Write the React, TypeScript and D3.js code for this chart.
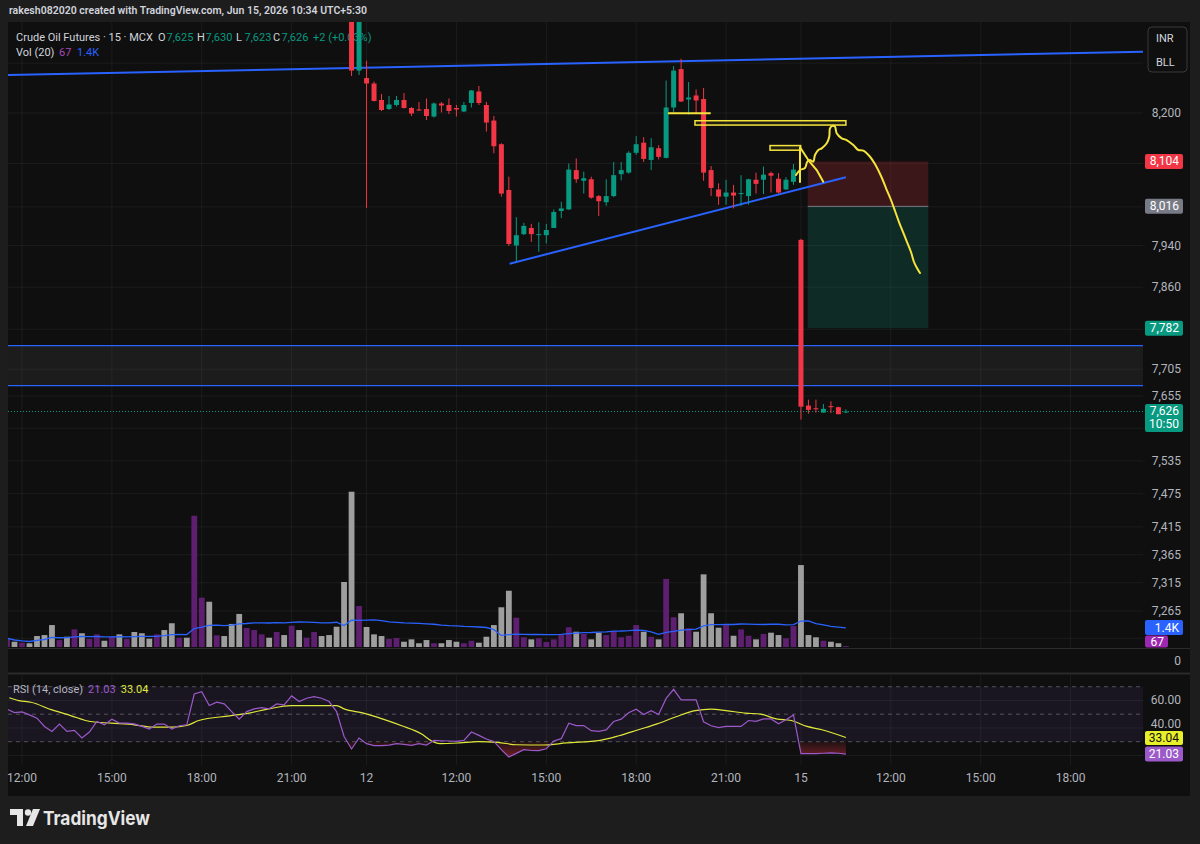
import React from 'react';
import * as d3 from 'd3';

const W = 1200;
const H = 844;

// 15-minute bars, session gaps removed. Bar 0 = Jun 11 12:00.
const firstBar = -2;
const volumes = [
  630, 380, 310, 270, 790, 860, 1580, 500, 740, 1270, 990, 580,
  910, 450, 740, 910, 580, 1080, 990, 600, 910, 1220,
  1710, 670, 670, 9450, 3550, 3260, 840, 790, 1660, 2380,
  1370, 1220, 910, 670, 1080, 860, 1530, 1220, 670, 1080,
  790, 860, 1460, 4680, 11180, 2950, 1440, 910, 790, 580,
  650, 380, 550, 270, 500, 270, 270, 500, 380, 270,
  450, 310, 740, 1580, 2860, 4050, 2110, 700, 550, 630,
  360, 550, 860, 1420, 1100, 940, 550, 1030, 860, 1150,
  700, 810, 1580, 1100, 740, 550, 4900, 2140, 2430, 1350,
  1100, 5230, 2430, 1390, 1580, 810, 1270, 810, 550, 940,
  1030, 860, 630, 1510, 5900, 860, 700, 450, 380, 270, 67,
];
// direction (1 = up) for bars -2..43 whose candles sit above the visible range
const volUpEarly = [
  1, 0, 1, 0, 0, 0, 0, 1, 0, 1, 0, 1, 1, 0, 1, 0, 1, 0, 0, 0, 1, 0, 0,
  1, 0, 1, 1, 0, 1, 0, 0, 0, 1, 1, 1, 0, 1, 0, 1, 0, 1, 1, 0, 0, 0, 0,
];
const candleStart = 44;
const opens = [
  8420, 8285, 8270, 8259, 8226, 8208, 8216, 8226, 8210, 8207, 8208, 8193, 8219, 8216, 8210, 8203,
  8220, 8243, 8216, 8185, 8138, 8048, 7940, 7962, 7974, 7961, 7960, 7974, 8007, 8010, 8087, 8066,
  8069, 8036, 8024, 8036, 8079, 8082, 8121, 8141, 8107, 8130, 8111, 8211, 8288, 8227, 8235, 8228,
  8087, 8049, 8035, 8043, 8040, 8036, 8068, 8068, 8081, 8070, 8049, 8064, 7951, 7637, 7632, 7624,
  7636, 7634, 7625,
];
const highs = [
  8440, 8420, 8305, 8263, 8238, 8234, 8234, 8240, 8212, 8222, 8229, 8221, 8222, 8229, 8216, 8222,
  8246, 8254, 8222, 8194, 8140, 8074, 7995, 7984, 7982, 7985, 7982, 8010, 8025, 8100, 8110, 8084,
  8074, 8038, 8069, 8103, 8103, 8124, 8154, 8152, 8150, 8136, 8265, 8294, 8309, 8262, 8247, 8250,
  8095, 8061, 8068, 8058, 8077, 8070, 8082, 8094, 8084, 8081, 8073, 8099, 7953, 7648, 7648, 7640,
  7645, 7635, 7630,
];
const lows = [
  8274, 8276, 8013, 8223, 8204, 8206, 8213, 8209, 8194, 8204, 8186, 8191, 8201, 8198, 8193, 8202,
  8211, 8216, 8163, 8120, 8035, 7939, 7910, 7960, 7947, 7928, 7944, 7974, 7993, 8009, 8062, 8041,
  8031, 7997, 8017, 8034, 8067, 8080, 8117, 8103, 8087, 8108, 8110, 8201, 8222, 8197, 8200, 8066,
  8036, 8019, 8019, 8012, 8017, 8019, 8041, 8040, 8043, 8041, 8048, 8058, 7611, 7622, 7624, 7624,
  7623, 7621, 7623,
];
const closes = [
  8285, 8400, 8259, 8224, 8206, 8217, 8226, 8210, 8199, 8205, 8194, 8219, 8215, 8204, 8207, 8216,
  8245, 8220, 8181, 8134, 8041, 7943, 7960, 7978, 7962, 7962, 7970, 8005, 8012, 8088, 8069, 8071,
  8033, 8026, 8036, 8077, 8087, 8121, 8138, 8109, 8132, 8113, 8211, 8285, 8223, 8231, 8225, 8082,
  8052, 8035, 8043, 8037, 8042, 8069, 8060, 8078, 8076, 8043, 8068, 8088, 7635, 7629, 7631, 7631,
  7634, 7621, 7626,
];
const rsi = [
  53.7, 51.2, 51.7, 49.5, 47.1, 41.1, 37.5, 42.8, 37.5, 38.2, 32.7, 37.0,
  44.7, 42.3, 46.4, 43.5, 43.5, 43.0, 41.1, 39.2, 42.8, 42.8,
  39.2, 41.6, 42.3, 64.7, 66.4, 56.3, 58.7, 57.5, 51.9, 46.4,
  51.9, 53.9, 54.8, 53.9, 57.5, 56.8, 63.3, 59.2, 61.6, 62.8,
  61.6, 59.2, 51.9, 33.8, 24.7, 32.7, 28.6, 27.1, 27.1, 27.5,
  28.6, 28.0, 27.3, 28.6, 27.6, 30.9, 30.7, 30.5, 30.2, 30.9,
  37.0, 34.6, 32.0, 30.2, 24.2, 18.9, 21.5, 24.2, 23.6, 23.5,
  24.9, 30.5, 32.2, 43.5, 41.7, 41.7, 38.0, 37.5, 38.6, 44.7,
  46.4, 51.1, 53.6, 49.8, 52.6, 49.8, 61.5, 68.1, 60.4, 60.4,
  60.4, 44.5, 41.6, 40.3, 41.1, 41.1, 41.1, 45.4, 44.8, 46.6,
  46.6, 43.0, 45.9, 49.5, 21.3, 21.3, 21.3, 21.6, 21.8, 21.6, 21.03,
];
// RSI-based MA, read at bar positions
const rsiMaBars = [-1.7, -0.4, 1.2, 4, 6.5, 9.1, 11.9, 15, 17.5, 20, 22, 23.6, 27.7, 30.3, 32.8, 35.9, 37.9, 42, 43, 45.6, 48.2, 50.7, 53.3, 54.8, 55.8, 58.4, 60.9, 63.5, 66, 69.6, 72.7, 77.2, 79.7, 82.3, 84.8, 87.4, 89.9, 92, 94, 96.6, 98.6, 100.7, 102.7, 104.8, 106.8, 110];
const rsiMaVals = [62.0, 59.9, 58.7, 53.1, 49.0, 44.7, 43.5, 42.3, 40.6, 40.6, 41.8, 45.4, 48.8, 50.8, 53.7, 56.3, 56.3, 56.3, 53.9, 50.8, 46.4, 41.6, 35.8, 30.2, 28.6, 29.1, 30.0, 29.5, 27.8, 27.6, 29.1, 31.0, 34.3, 38.7, 43.0, 48.3, 52.6, 53.7, 52.6, 50.8, 50.0, 46.6, 45.4, 41.1, 38.7, 33.04];

const timeTickBars = [0, 12, 24, 36, 46, 58, 70, 82, 94, 104, 116, 128, 140];
const timeTickLabels = ['12:00', '15:00', '18:00', '21:00', '12', '12:00', '15:00', '18:00', '21:00', '15', '12:00', '15:00', '18:00'];
// grid levels; the ones covered by axis labels are drawn as lines only
const priceGrid = [8300, 8200, 8100, 8015, 7940, 7860, 7780, 7705, 7655, 7595, 7535, 7475, 7415, 7365, 7315, 7265, 7217];
const priceTickLabels = [8200, 7940, 7860, 7705, 7655, 7535, 7475, 7415, 7365, 7315, 7265];
const rsiTicks = [60, 40, 20];
const rsiTickLabels = [60, 40];
const rsiBands = [70, 50, 30];

// legend pieces
const legendTitle = 'Crude Oil Futures · 15 · MCX';
const ohlcKeys = ['O', 'H', 'L', 'C'];
const ohlcVals = ['7,625', '7,630', '7,623', '7,626'];
const ohlcX = [158, 197, 236, 273];
const changeText = '+2 (+0.03%)';
const volLegend = [
  { t: 'Vol (20)', x: 16, c: '#d1d4dc' },
  { t: '67', x: 59, c: '#ab47bc' },
  { t: '1.4K', x: 77, c: '#2962ff' },
];

// drawings (bar index, price)
const trendTop = [[-1.87, 8276], [149.67, 8323]];
const trendBottom = [[65.1, 7905], [110, 8073]];
const zoneHigh = 7749;
const zoneLow = 7674;
const posFrom = 104.9, posTo = 121;
const posEntry = 8016, posStop = 8104, posTarget = 7782;
const yellowBoxes = [[89.85, 110, 8184.6, 8176], [99.87, 103.96, 8135.3, 8126.2]];
const yellowLine = [86.25, 91.95, 8199.4];
const sketchA = [[103.87, 8063.6], [103.87, 8131.9], [104.98, 8106.8], [105.43, 8098.9], [106.1, 8087.1], [106.98, 8064.2]];
const sketchB = [[103.34, 8077.3], [103.87, 8087.1], [104.54, 8091.1], [104.85, 8103.5], [105.21, 8106.8], [105.65, 8103.5], [105.87, 8116.7], [106.32, 8126.6], [106.77, 8129.9], [107.44, 8139.8], [107.78, 8152.9], [107.88, 8169.6], [108.24, 8174.7], [108.54, 8172.7], [108.77, 8159.6], [109.44, 8149.7], [110.1, 8146.3], [110.99, 8136.4], [111.66, 8126.6], [112.32, 8125.2], [113.22, 8113.3], [113.88, 8098.9], [114.69, 8075.4], [115.35, 8051.8], [116.02, 8028.4], [116.56, 8006.9], [117.09, 7985.5], [117.62, 7966.2], [118.16, 7946.8], [118.69, 7927.5], [119.09, 7908.3], [119.49, 7896.7], [119.89, 7887.1]];

const UP = '#089981';
const DOWN = '#f23645';
const FONT = 'Roboto, "Noto Sans", sans-serif';

export default function App() {
  const L = 8, R = 1143, AX = 1190, TOP = 22, MAINB = 648, RT = 675, RB = 765, BOT = 796;
  const x = d3.scaleLinear().domain([0, 140]).range([22, 22 + 140 * 7.49]);
  const y = d3.scaleLog().domain([8200, 7265]).range([113, 611]);
  const yV = d3.scaleLinear().domain([0, 11520]).range([647, 487]);
  const yR = d3.scaleLinear().domain([70, 30]).range([686.7, 741.7]);
  const bw = 5;

  const candles = opens.map((o, k) => ({ i: candleStart + k, o, h: highs[k], l: lows[k], c: closes[k] }));
  const vols = volumes.map((v, k) => {
    const i = firstBar + k;
    const up = i < candleStart ? volUpEarly[k] === 1 : closes[i - candleStart] >= opens[i - candleStart];
    return { i, v, up };
  });
  const volMa = vols.map((d, k) => ({ i: d.i, v: d3.mean(vols.slice(Math.max(0, k - 19), k + 1), (e) => e.v) as number }));
  const rsiPts = rsi.map((r, k) => ({ i: firstBar + k, r }));
  const rsiMa = rsiMaBars.map((b, k) => ({ i: b, r: rsiMaVals[k] }));

  const volLine = d3.line<{ i: number; v: number }>().x((d) => x(d.i)).y((d) => yV(d.v));
  const rsiLine = d3.line<{ i: number; r: number }>().x((d) => x(d.i)).y((d) => yR(d.r));
  const rsiMaLine = d3.line<{ i: number; r: number }>().x((d) => x(d.i)).y((d) => yR(d.r)).curve(d3.curveMonotoneX);
  const rsiArea = d3.area<{ i: number; r: number }>().x((d) => x(d.i)).y0(yR(30)).y1((d) => yR(d.r));
  const sketch = d3.line<number[]>().x((d) => x(d[0])).y((d) => y(d[1])).curve(d3.curveCatmullRom);
  const straight = d3.line<number[]>().x((d) => x(d[0])).y((d) => y(d[1]));

  const extend = (pts: number[][]) => {
    const [a, b] = pts;
    const s = (Math.log(b[1]) - Math.log(a[1])) / (b[0] - a[0]);
    const i0 = x.invert(L), i1 = x.invert(R);
    return [x(i0), y(Math.exp(Math.log(a[1]) + s * (i0 - a[0]))), x(i1), y(Math.exp(Math.log(a[1]) + s * (i1 - a[0])))];
  };
  const tt = extend(trendTop);

  const axisLabel = (cy: number, text: string, bg: string, fg = '#ffffff', w = 38, h = 15) => (
    <g key={text + cy}>
      <rect x={1145} y={cy - h / 2} width={w} height={h} rx={2} fill={bg} />
      <text x={1145 + w - 4} y={cy + 4} textAnchor="end" fontSize={12} fill={fg} fontFamily={FONT}>{text}</text>
    </g>
  );

  const grid = 'rgba(255,255,255,0.055)';
  const tickColor = '#b2b5be';

  return (
    <div style={{ position: 'absolute', left: 0, top: 0, width: W, height: H }}>
      <svg width={W} height={H} style={{ display: 'block' }} fontFamily={FONT}>
        <defs>
          <clipPath id="mainClip"><rect x={L} y={TOP} width={R - L} height={MAINB - TOP} /></clipPath>
          <clipPath id="rsiClip"><rect x={L} y={RT} width={R - L} height={RB - RT} /></clipPath>
          <clipPath id="below30"><rect x={L} y={yR(30)} width={R - L} height={RB - yR(30)} /></clipPath>
          <linearGradient id="redFade" gradientUnits="userSpaceOnUse" x1={0} y1={yR(30)} x2={0} y2={yR(10)}>
            <stop offset="0" stopColor="#f23645" stopOpacity={0.08} />
            <stop offset="1" stopColor="#f23645" stopOpacity={0.7} />
          </linearGradient>
        </defs>
        <rect x={0} y={0} width={W} height={H} fill="#1d1d1d" />
        <text x={9} y={14} fontSize={11.5} fontWeight={600} fill="#d1d4dc" textLength={358} lengthAdjust="spacingAndGlyphs">rakesh082020 created with TradingView.com, Jun 15, 2026 10:34 UTC+5:30</text>
        <rect x={L} y={TOP} width={AX - L} height={BOT - TOP} fill="#0f0f0f" />

        {timeTickBars.map((b) => (
          <g key={'vg' + b}>
            <line x1={x(b)} x2={x(b)} y1={TOP} y2={MAINB} stroke={grid} />
            <line x1={x(b)} x2={x(b)} y1={RT} y2={RB} stroke={grid} />
          </g>
        ))}
        {priceGrid.map((p) => (
          <line key={'hg' + p} x1={L} x2={R} y1={y(p)} y2={y(p)} stroke={grid} />
        ))}

        <text x={16} y={41} fontSize={11} fill="#d1d4dc">{legendTitle}</text>
        {ohlcKeys.map((k, n) => (
          <g key={'ohlc' + k}>
            <text x={ohlcX[n]} y={41} fontSize={11} fill="#d1d4dc">{k}</text>
            <text x={ohlcX[n] + 8.5} y={41} fontSize={11} fill={UP}>{ohlcVals[n]}</text>
          </g>
        ))}
        <text x={313} y={41} fontSize={11} fill={UP}>{changeText}</text>
        {volLegend.map((it) => (
          <text key={'vl' + it.t} x={it.x} y={56} fontSize={11} fill={it.c}>{it.t}</text>
        ))}

        <g clipPath="url(#mainClip)">
          <rect x={L} y={y(zoneHigh)} width={R - L} height={y(zoneLow) - y(zoneHigh)} fill="rgba(120,123,134,0.12)" />
          <line x1={L} x2={R} y1={y(zoneHigh)} y2={y(zoneHigh)} stroke="#2962ff" strokeWidth={1.2} />
          <line x1={L} x2={R} y1={y(zoneLow)} y2={y(zoneLow)} stroke="#2962ff" strokeWidth={1.2} />

          <rect x={x(posFrom)} y={y(posStop)} width={x(posTo) - x(posFrom)} height={y(posEntry) - y(posStop)} fill="rgba(242,54,69,0.2)" />
          <rect x={x(posFrom)} y={y(posEntry)} width={x(posTo) - x(posFrom)} height={y(posTarget) - y(posEntry)} fill="rgba(8,153,129,0.2)" />
          <line x1={x(posFrom)} x2={x(posTo)} y1={y(posEntry)} y2={y(posEntry)} stroke="#787b86" strokeWidth={1} />

          {vols.map((d) => (
            <rect key={'v' + d.i} x={x(d.i) - 2.9} y={yV(d.v)} width={5.8} height={Math.max(0.8, 647 - yV(d.v))}
              fill={d.up ? '#5e1f70' : '#9e9e9e'} />
          ))}
          <path d={volLine(volMa) || ''} fill="none" stroke="#2962ff" strokeWidth={1.3} />

          <line x1={tt[0]} y1={tt[1]} x2={tt[2]} y2={tt[3]} stroke="#2962ff" strokeWidth={2} />
          <line x1={x(trendBottom[0][0])} y1={y(trendBottom[0][1])} x2={x(trendBottom[1][0])} y2={y(trendBottom[1][1])} stroke="#2962ff" strokeWidth={2} />

          <line x1={L} x2={R} y1={y(7626)} y2={y(7626)} stroke={UP} strokeDasharray="1 2" strokeWidth={1} />

          {candles.map((d) => {
            const col = d.c >= d.o ? UP : DOWN;
            const top = y(Math.max(d.o, d.c));
            const bot = y(Math.min(d.o, d.c));
            return (
              <g key={'c' + d.i}>
                <line x1={x(d.i)} x2={x(d.i)} y1={y(d.h)} y2={y(d.l)} stroke={col} strokeWidth={1} />
                <rect x={x(d.i) - bw / 2} y={top} width={bw} height={Math.max(1, bot - top)} fill={col} />
              </g>
            );
          })}

          {yellowBoxes.map((b, k) => (
            <rect key={'yb' + k} x={x(b[0])} y={y(b[2])} width={x(b[1]) - x(b[0])} height={y(b[3]) - y(b[2])}
              fill="rgba(255,235,59,0.08)" stroke="#f5e43c" strokeWidth={1.5} />
          ))}
          <line x1={x(yellowLine[0])} x2={x(yellowLine[1])} y1={y(yellowLine[2])} y2={y(yellowLine[2])} stroke="#f5e43c" strokeWidth={2} />
          <path d={straight(sketchA) || ''} fill="none" stroke="#f5e43c" strokeWidth={2} strokeLinejoin="round" strokeLinecap="round" />
          <path d={sketch(sketchB) || ''} fill="none" stroke="#f5e43c" strokeWidth={2} strokeLinejoin="round" strokeLinecap="round" />
        </g>

        <line x1={L} x2={AX} y1={MAINB + 0.5} y2={MAINB + 0.5} stroke="#2b2b2b" />
        <line x1={L} x2={AX} y1={673.5} y2={673.5} stroke="#2b2b2b" strokeWidth={2} />

        <g clipPath="url(#rsiClip)">
          <rect x={L} y={yR(70)} width={R - L} height={yR(30) - yR(70)} fill="rgba(126,87,194,0.1)" />
          {rsiTicks.map((t) => (
            <line key={'rg' + t} x1={L} x2={R} y1={yR(t)} y2={yR(t)} stroke={grid} />
          ))}
          {rsiBands.map((t) => (
            <line key={'rb' + t} x1={L} x2={R} y1={yR(t)} y2={yR(t)} stroke="#787b86" strokeOpacity={0.6} strokeDasharray="4 4" />
          ))}
          <path d={rsiArea(rsiPts) || ''} fill="url(#redFade)" clipPath="url(#below30)" />
          <path d={rsiMaLine(rsiMa) || ''} fill="none" stroke="#dfe83a" strokeWidth={1.2} />
          <path d={rsiLine(rsiPts) || ''} fill="none" stroke="#9b59c9" strokeWidth={1.2} />
        </g>
        <text x={13} y={693} fontSize={11} fill="#b2b5be">
          RSI (14, close)<tspan dx={5} fill="#9b59c9">21.03</tspan><tspan dx={5} fill="#dfe83a">33.04</tspan>
        </text>

        {priceTickLabels.map((p) => (
          <text key={'pt' + p} x={1181} y={y(p) + 4} textAnchor="end" fontSize={12} fill={tickColor}>
            {d3.format(',')(p)}
          </text>
        ))}
        <text x={1181} y={665} textAnchor="end" fontSize={12} fill={tickColor}>0</text>
        {rsiTickLabels.map((t) => (
          <text key={'rt' + t} x={1181} y={yR(t) + (t === 40 ? 0.5 : 4)} textAnchor="end" fontSize={12} fill={tickColor}>{t.toFixed(2)}</text>
        ))}
        <rect x={1148} y={27} width={39} height={45} rx={4} fill="#0f0f0f" stroke="#3a3a3a" />
        <text x={1156} y={42} fontSize={11} fill="#d1d4dc">INR</text>
        <text x={1156} y={66} fontSize={11} fill="#d1d4dc">BLL</text>

        {axisLabel(y(posStop), '8,104', DOWN)}
        {axisLabel(y(posEntry), '8,016', '#787b86')}
        {axisLabel(y(posTarget), '7,782', UP)}
        <g>
          <rect x={1145} y={404} width={38} height={28} rx={2} fill={UP} />
          <text x={1179} y={415} textAnchor="end" fontSize={12} fill="#fff">7,626</text>
          <text x={1179} y={428} textAnchor="end" fontSize={12} fill="#fff">10:50</text>
        </g>
        {axisLabel(627.5, '1.4K', '#2962ff')}
        {axisLabel(641.5, '67', '#9c27b0', '#fff', 23, 12)}
        {axisLabel(yR(33.04) + 0.5, '33.04', '#e8f02a', '#131313', 38, 14)}
        {axisLabel(yR(21.03), '21.03', '#9b59c9')}

        {timeTickBars.map((b, k) => (
          <text key={'tl' + b} x={x(b)} y={782} textAnchor="middle" fontSize={12} fill={tickColor}>{timeTickLabels[k]}</text>
        ))}

        <g fill="#e6e6e6">
          <path d="M10,809 H23 V826 H17 V815 H10 Z" />
          <circle cx={28} cy={812.5} r={3.2} />
          <path d="M26,826 L33,809 H40 L33,826 Z" />
          <text x={43} y={825} fontSize={19} fontWeight={700} fontFamily="Inter, Roboto, sans-serif" textLength={107} lengthAdjust="spacingAndGlyphs">TradingView</text>
        </g>
      </svg>
    </div>
  );
}
